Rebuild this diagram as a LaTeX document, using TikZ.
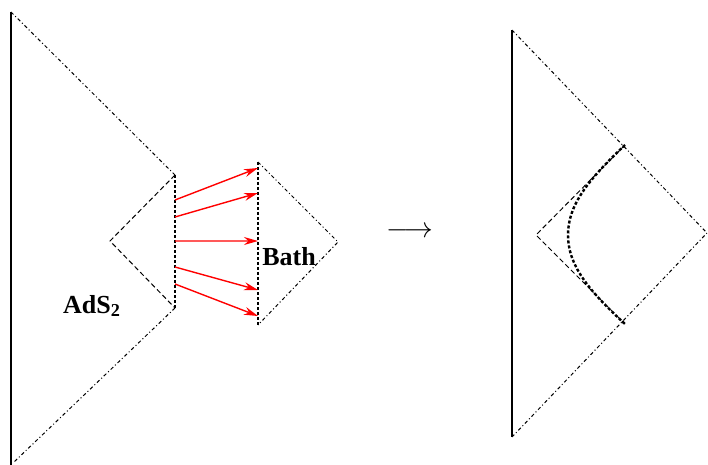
\documentclass[tikz,border=0pt]{standalone}
\usepackage{fontspec}
\setmainfont{Liberation Serif}
\usetikzlibrary{arrows.meta}
\tikzset{
  edge/.style={line width=0.5pt, dash pattern=on 1.75pt off 1.25pt on 0.5pt off 1.25pt},
  inner/.style={line width=0.5pt, dash pattern=on 2.5pt off 1.5pt},
  cut/.style={line width=1.2pt, dash pattern=on 1.5pt off 1pt},
  flow/.style={line width=0.7pt, -{Stealth[length=7pt,width=4pt]}},
  lbl/.style={font=\fontsize{13}{15}\selectfont\bfseries}
}
\begin{document}
\begin{tikzpicture}[x=0.5pt,y=-0.5pt]
\useasboundingbox (0,0) rectangle (708,465);
% left picture
\coordinate (lt) at (11,12);
\coordinate (lb) at (11,465);
\coordinate (ct) at (175,175);
\coordinate (cb) at (175,308);
\coordinate (cl) at (110,241);
\coordinate (bt) at (258,162);
\coordinate (bb) at (258,325);
\coordinate (br) at (338,242);
\draw[line width=1pt] (lt) -- (lb);
\draw[edge] (lt) -- (ct);
\draw[edge] (cb) -- (14,462);
\draw[inner] (ct) -- (cl) -- (cb);
\draw[cut] (ct) -- (cb);
\draw[cut] (bt) -- (bb);
\draw[edge] (bt) -- (br) -- (bb);
% flux into the bath
\begin{scope}[red]
\foreach \ya/\yb [count=\i] in {200/168, 217/193, 241/241.01, 267/290, 284/316}{
  \coordinate (s\i) at (175,\ya);
  \coordinate (e\i) at (258,\yb);
  \draw[flow] (s\i) -- (e\i);
}
\end{scope}
\node[lbl] (bath) at (289,257) {Bath};
\node[lbl] (ads) at (92,306) {AdS\textsubscript{2}};
% map
\node[font=\fontsize{15}{17}\selectfont] (map) at (410,232) {$\longrightarrow$};
% right picture
\coordinate (rt) at (512,30);
\coordinate (rb) at (512,437);
\coordinate (rr) at (707,233);
\coordinate (qt) at (625,145);
\coordinate (qb) at (625,324);
\coordinate (ql) at (536,235);
\draw[line width=1pt] (rt) -- (rb);
\draw[edge] (rt) -- (rr) -- (rb);
\draw[inner] (qt) -- (ql) -- (qb);
\draw[cut] (qt) .. controls (588,180) and (568,205) .. (568,235)
  .. controls (568,265) and (588,290) .. (qb);
\end{tikzpicture}
\end{document}
